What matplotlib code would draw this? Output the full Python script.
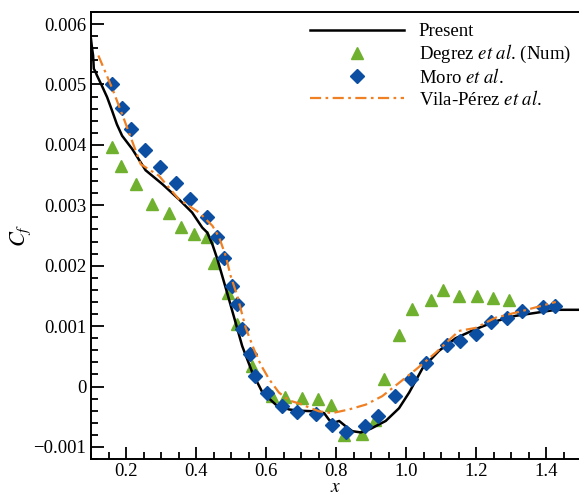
import matplotlib
matplotlib.use('Agg')
import matplotlib.pyplot as plt
from matplotlib.ticker import MultipleLocator, FuncFormatter

plt.rcParams['font.family'] = ['Liberation Serif', 'DejaVu Serif']
plt.rcParams['mathtext.fontset'] = 'stix'

# Present (black solid line)
x_present = [0.1, 0.103, 0.106, 0.108, 0.112, 0.117, 0.131, 0.146, 0.16, 0.174, 0.189,
             0.218, 0.256, 0.304, 0.351, 0.389, 0.418, 0.432, 0.447, 0.461, 0.475,
             0.489, 0.513, 0.532, 0.561, 0.59, 0.628, 0.666, 0.694, 0.737, 0.766,
             0.78, 0.794, 0.809, 0.828, 0.847, 0.871, 0.899, 0.942, 0.98, 1.009,
             1.047, 1.094, 1.142, 1.199, 1.256, 1.313, 1.371, 1.428, 1.5]
cf_present = [0.00575, 0.0056, 0.00548, 0.00526, 0.00522, 0.00515, 0.00498, 0.00479,
              0.00457, 0.00434, 0.00415, 0.00393, 0.00358, 0.00335, 0.0031, 0.00288,
              0.00263, 0.00255, 0.00235, 0.00211, 0.00183, 0.00155, 0.00106, 0.00067,
              0.00023, -0.0001, -0.0003, -0.00038, -0.0004, -0.00041, -0.00044,
              -0.00055, -0.0006, -0.00057, -0.00066, -0.00074, -0.00076, -0.0007,
              -0.00057, -0.00036, -0.0001, 0.0003, 0.00059, 0.0008, 0.00095, 0.00108,
              0.00117, 0.00122, 0.00127, 0.00127]

# Degrez et al. (Num)
x_degrez = [0.16, 0.186, 0.228, 0.275, 0.323, 0.356, 0.394, 0.432, 0.45, 0.491, 0.516,
            0.559, 0.616, 0.654, 0.704, 0.749, 0.785, 0.823, 0.873, 0.911, 0.937, 0.98,
            1.016, 1.071, 1.106, 1.151, 1.204, 1.249, 1.294]
cf_degrez = [0.00396, 0.00365, 0.00335, 0.00302, 0.00287, 0.00264, 0.00253, 0.00248,
             0.00205, 0.00154, 0.00103, 0.00034, -0.00016, -0.00017, -0.00019, -0.0002,
             -0.0003, -0.0008, -0.00078, -0.00056, 0.00013, 0.00086, 0.00128, 0.00144,
             0.0016, 0.0015, 0.0015, 0.00147, 0.00144]

# Moro et al.
x_moro = [0.159, 0.188, 0.213, 0.253, 0.296, 0.342, 0.383, 0.432, 0.461, 0.48, 0.502,
          0.516, 0.532, 0.553, 0.569, 0.604, 0.645, 0.69, 0.742, 0.788, 0.829, 0.883,
          0.921, 0.969, 1.013, 1.056, 1.118, 1.154, 1.199, 1.242, 1.289, 1.332, 1.391,
          1.425]
cf_moro = [0.00501, 0.00461, 0.00427, 0.00392, 0.00364, 0.00337, 0.00311, 0.0028,
           0.00248, 0.00213, 0.00166, 0.00136, 0.00096, 0.00054, 0.00017, -0.0001,
           -0.00033, -0.00042, -0.00045, -0.00063, -0.00076, -0.00066, -0.00048,
           -0.00015, 0.00013, 0.00039, 0.00068, 0.00076, 0.00087, 0.00107, 0.00113,
           0.00125, 0.00132, 0.00134]

# Vila-Perez et al.
x_vila = [0.121, 0.161, 0.194, 0.242, 0.294, 0.351, 0.409, 0.447, 0.466, 0.485, 0.499,
          0.518, 0.542, 0.566, 0.585, 0.609, 0.637, 0.666, 0.694, 0.751, 0.789, 0.837,
          0.885, 0.932, 0.98, 1.028, 1.085, 1.151, 1.199, 1.256, 1.332, 1.428]
cf_vila = [0.00548, 0.00493, 0.00443, 0.00368, 0.00349, 0.0031, 0.00288, 0.00266,
           0.00247, 0.00216, 0.00183, 0.0015, 0.00097, 0.00061, 0.00036, 0.00012,
           -0.0001, -0.00023, -0.00028, -0.00041, -0.00044, -0.00038, -0.0003,
           -0.00016, 0.00006, 0.00028, 0.00056, 0.00092, 0.00097, 0.00114, 0.00125,
           0.0014]

fig = plt.figure(figsize=(5.79, 4.96), dpi=100)
# right spine sits just past the figure edge, as in the original crop
ax = fig.add_axes([91/579, 37/496, 490/579, 447/496])

ax.plot(x_present, cf_present, color='black', lw=1.8, label='Present', zorder=3)
ax.plot(x_degrez, cf_degrez, ls='none', marker='^', ms=8, color='#6fb12f',
        label=r'Degrez $\mathit{et\ al}$. (Num)', zorder=2)
ax.plot(x_moro, cf_moro, ls='none', marker='D', ms=7, color='#0b4ea2',
        label=r'Moro $\mathit{et\ al}$.', zorder=4)
ax.plot(x_vila, cf_vila, ls=(0, (5, 2, 1.2, 2)), color='#f08024', lw=1.6,
        label=r'Vila-Pérez $\mathit{et\ al}$.', zorder=5)

ax.set_xlim(0.1, 1.5)
ax.set_ylim(-0.0012, 0.0062)
ax.xaxis.set_major_locator(MultipleLocator(0.2))
ax.xaxis.set_minor_locator(MultipleLocator(0.05))
ax.yaxis.set_major_locator(MultipleLocator(0.001))
ax.yaxis.set_minor_locator(MultipleLocator(0.0002))
ax.xaxis.set_major_formatter(FuncFormatter(lambda v, p: f'{v:.1f}'))
ax.yaxis.set_major_formatter(FuncFormatter(
    lambda v, p: '0' if abs(v) < 1e-9 else f'{v:.3f}'.replace('-', '\u2212')))
ax.tick_params(which='both', direction='in', labelsize=13.5, width=1.3)
ax.tick_params(which='major', length=9)
ax.tick_params(which='minor', length=5)
ax.tick_params(axis='x', pad=3)
for s in ax.spines.values():
    s.set_linewidth(1.4)

ax.set_xlabel('$x$', fontsize=14, labelpad=-1)
ax.set_ylabel('$C_f$', fontsize=16, labelpad=0)

ax.legend(loc='upper left', bbox_to_anchor=(0.447, 0.975), frameon=False,
          fontsize=13.5, borderpad=0, borderaxespad=0, handlelength=5.0,
          handletextpad=0.8, labelspacing=0.15)

fig.savefig('out.png', dpi=100)
